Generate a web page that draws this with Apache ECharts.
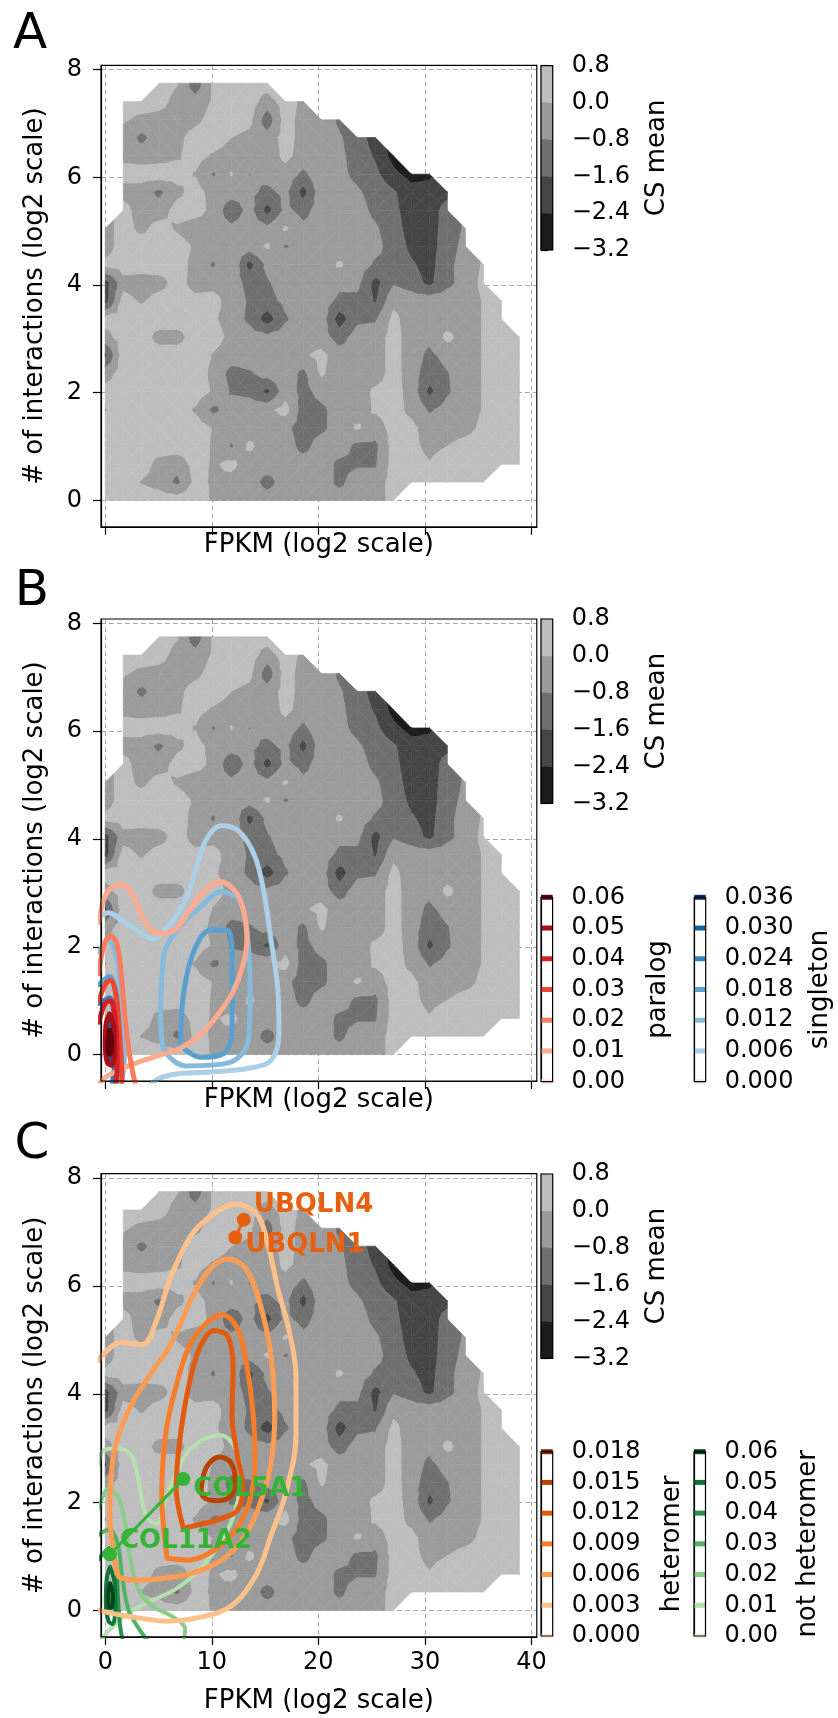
<!DOCTYPE html>
<html><head><meta charset="utf-8">
<script src="https://cdn.jsdelivr.net/npm/echarts@6/dist/echarts.min.js"></script>
<style>html,body{margin:0;padding:0;background:#fff}#c{width:838px;height:1718px}</style>
</head><body><div id="c"></div>
<script>
const _ = null;
// ---------- CS mean field (grid nodes, rows top -> bottom) ----------
const xNodes = [0,1.69,3.38,5.07,6.76,8.45,10.14,11.83,13.52,15.21,16.9,18.59,20.28,21.97,23.66,25.35,27.04,28.73,30.42,32.11,33.8,35.49,37.18,38.87];
const yNodes = [7.75,7.41,7.07,6.74,6.40,6.06,5.73,5.39,5.05,4.72,4.38,4.04,3.71,3.37,3.03,2.70,2.36,2.02,1.68,1.35,1.01,0.67,0.34,0];
const csMean = [
 [_,_,_,0.4,0.05,-1.3,0.1,0.4,0.4,0.4,_,_,_,_,_,_,_,_,_,_,_,_,_,_],
 [_,0.4,0.4,0.3,-0.3,-0.5,0.1,0.4,0.4,-0.4,0.4,-0.2,_,_,_,_,_,_,_,_,_,_,_,_],
 [_,0.1,-0.2,-0.3,-0.4,-0.2,0.3,0.4,0.2,-1.3,0.3,-0.3,0.0,-1.0,_,_,_,_,_,_,_,_,_,_],
 [_,-0.3,-1.0,-0.4,-0.2,0.3,0.4,0.0,-0.2,-0.5,0.3,-0.3,-0.3,-0.7,-1.3,-1.9,_,_,_,_,_,_,_,_],
 [_,-0.2,-0.4,-0.3,-0.1,0.3,-0.1,-0.3,-0.4,-0.5,0.2,-0.3,0.0,-0.6,-1.2,-1.7,-2.7,_,_,_,_,_,_,_],
 [_,0.3,0.4,0.4,0.3,-0.05,-0.9,0.05,-0.82,-0.5,-0.3,-1.0,-0.2,-0.6,-1.0,-1.4,-2.2,-2.7,-2.5,_,_,_,_,_],
 [_,-0.3,-0.4,-1.0,-0.2,0.3,-0.3,-0.4,-0.6,-1.0,-0.6,-1.9,-0.3,-0.5,-0.7,-1.1,-1.5,-2.1,-2.2,-1.9,_,_,_,_],
 [_,0.3,-0.4,-0.4,0.3,0.3,-0.2,-1.4,-0.5,-1.9,-0.6,-1.1,-0.4,-0.4,-0.5,-1.0,-1.4,-2.0,-2.1,-1.2,_,_,_,_],
 [-0.3,0.3,-0.2,0.3,-0.1,-0.4,-0.4,-0.6,-0.4,-0.6,0.1,-0.6,-0.4,-0.4,-0.4,-0.7,-1.2,-2.0,-2.0,-1.2,-0.7,_,_,_],
 [-0.4,0.4,0.4,0.4,0.3,-0.1,-0.4,-0.4,-0.4,0.1,-0.9,-0.4,-0.4,-0.4,-0.5,-0.6,-1.1,-1.8,-2.0,-1.1,-0.6,_,_,_],
 [0.2,0.4,0.4,0.4,0.4,-0.3,-0.9,0.0,-1.9,-0.6,0.0,-0.4,-0.5,0.1,-0.4,-0.9,-1.0,-1.5,-1.9,-1.0,-0.5,0.1,_,_],
 [-2.0,-0.3,-0.4,-0.3,0.3,-0.3,-0.3,-0.5,-1.0,-0.9,-0.4,-0.4,0.0,-0.6,-0.6,-1.9,-0.9,-1.2,-1.8,-1.0,-0.5,0.2,_,_],
 [-2.0,0.3,-0.1,0.3,0.4,0.2,0.3,-0.4,-0.9,-1.1,-0.6,-0.4,-0.4,-1.0,-1.0,-1.7,-0.2,-0.4,-0.4,-0.4,-0.4,0.05,0.4,_],
 [0.3,0.4,0.4,0.4,0.4,0.4,0.1,-0.3,-1.0,-2.0,-0.9,-0.4,-0.4,-2.0,-1.0,-0.9,0.2,-0.4,-0.4,-0.4,-0.4,0.05,0.4,_],
 [-0.3,0.4,0.4,-0.3,-0.3,0.4,0.3,-0.2,-0.4,-0.6,-0.4,-0.4,-0.4,-1.2,-0.4,-0.4,0.3,-0.4,-0.6,0.2,-0.4,0.05,0.4,0.4],
 [-1.8,0.4,0.4,0.4,0.4,0.4,-0.05,-0.4,-0.4,-0.4,-0.3,-0.1,0.2,-0.4,-0.4,-0.4,0.3,-0.4,-1.0,-0.5,-0.4,0.05,0.4,0.4],
 [-0.4,0.4,0.4,0.4,0.4,0.4,-0.2,-1.1,-0.9,-0.5,-0.4,-1.0,0.1,-0.4,-0.4,-0.4,0.3,-0.4,-1.3,-0.85,-0.4,0.05,0.4,0.4],
 [0.3,0.4,0.4,0.4,0.4,0.4,-0.1,-0.9,-1.0,-1.8,-0.3,-1.1,-0.5,-0.4,-0.4,0.15,0.3,-0.3,-1.8,-0.9,-0.4,0.05,0.4,0.4],
 [-0.05,0.4,0.4,0.4,0.4,-0.1,-1.0,-0.4,-0.4,-0.2,0.3,-1.2,-1.0,-0.4,-0.4,0.1,0.3,-0.2,-0.9,-0.5,-0.4,0.05,0.4,0.4],
 [0.4,0.4,0.4,0.4,0.4,0.4,-0.05,-0.4,-0.4,-0.4,-0.6,-1.2,-1.0,-0.4,0.1,-0.4,0.3,0.2,-0.4,-0.4,-0.3,0.2,0.4,0.4],
 [0.4,0.4,0.4,0.4,0.4,0.4,-0.1,-0.9,0.15,-0.4,-0.4,-1.1,-0.4,-0.4,-1.0,-1.0,0.3,0.2,-0.2,0.0,0.3,0.4,0.4,0.4],
 [0.4,0.4,0.4,-0.3,-0.5,0.3,-0.1,0.2,-0.4,-0.4,-0.4,-0.4,-0.4,-1.0,-0.9,-0.9,0.3,0.3,0.05,0.4,0.4,0.4,0.4,0.4],
 [0.4,0.4,-0.05,-0.3,-1.0,0.2,-0.1,-0.3,-0.4,-1.1,-0.4,-0.4,-0.4,-1.0,-0.4,-0.4,0.3,0.4,0.4,0.4,0.4,0.4,_,_],
 [0.4,0.4,0.4,0.4,0.4,0.4,-0.1,-0.4,-0.4,-0.4,-0.4,-0.4,-0.4,-0.4,-0.4,-0.4,0.3,_,_,_,_,_,_,_]
];
const csLevels = [-3.2,-2.4,-1.6,-0.8,0.0,0.8];
const csColors = ['#1c1c1c','#464646','#707070','#9b9b9b','#bdbdbd'];

// ---------- contour colorbar levels ----------
const paralogLevels = [0,0.01,0.02,0.03,0.04,0.05,0.06];
const paralogColors = ['#fee5d9','#fcab8f','#fb7d5d','#ef4533','#d02225','#a81016','#67000d'];
const singletonLevels = [0,0.006,0.012,0.018,0.024,0.030,0.036];
const singletonColors = ['#e3eef8','#aacfe6','#84bbdb','#5aa0cf','#3181bd','#1461a8','#08306b'];
const heteromerLevels = [0,0.003,0.006,0.009,0.012,0.015,0.018];
const heteromerColors = ['#feeddc','#fdc28c','#fd9d53','#f77d2a','#e25a0d','#b94203','#7f2704'];
const nonHetLevels = [0,0.01,0.02,0.03,0.04,0.05,0.06];
const nonHetColors = ['#e5f5e0','#b5e0ae','#88cc86','#52b263','#2b924a','#0e7537','#00441b'];

// ---------- KDE contour paths (x = FPKM, y = interactions) ----------
const singleton006 = [[-0.6,2.55],[0.3,2.63],[1.5,2.5],[3.0,2.3],[4.5,2.15],[6.0,2.4],[7.6,2.9],[8.6,3.5],[9.5,4.0],[10.9,4.25],[12.5,4.15],[14.0,3.7],[14.9,3.0],[15.5,2.2],[16.2,1.2],[16.3,0.4],[15.6,-0.1],[13.6,-0.25],[10.2,-0.32],[7.0,-0.35],[5.0,-0.45],[3.5,-0.7]];
const singleton012a = [[5.2,0.62],[5.5,1.84],[6.9,2.35],[8.9,2.73],[10.9,3.02],[12.6,2.86],[13.3,2.28],[13.6,1.2],[13.4,0.24],[11.6,-0.15],[7.6,-0.21],[5.5,0.11],[5.2,0.62]];
const singleton012b = [[-0.6,1.9],[0.3,2.12],[1.1,1.8],[1.5,1.0],[1.8,0.2],[1.7,-0.3],[1.3,-0.7]];
const singleton018a = [[7.05,0.17],[7.4,1.2],[8.4,1.96],[9.9,2.31],[11.4,2.31],[11.9,1.96],[11.9,0.56],[11.25,0.04],[8.9,-0.05],[7.05,0.17]];
const singleton018b = [[-0.6,1.3],[0.4,1.45],[1.1,1.0],[1.25,0.2],[1.0,-0.7]];
const singleton024 = [[-0.6,0.95],[0.4,1.05],[0.9,0.5],[0.85,-0.2],[0.5,-0.7]];
const singleton030 = [[0.35,0.7],[0.65,0.5],[0.7,0.1],[0.45,-0.15],[0.15,0.0],[0.1,0.4],[0.35,0.7]];

const paralog01 = [[-0.6,2.45],[-0.17,2.86],[0.5,3.08],[1.68,3.15],[2.69,2.92],[3.53,2.54],[4.87,2.25],[6.55,2.31],[7.9,2.67],[9.4,3.05],[10.75,3.21],[12.1,3.05],[12.9,2.73],[13.3,2.15],[12.9,1.64],[11.9,1.13],[10.6,0.75],[8.9,0.36],[6.9,0.11],[4.5,-0.05],[2.2,-0.21],[0.17,-0.4],[-0.6,-0.55]];
const paralog02 = [[-0.6,1.5],[-0.1,2.05],[0.5,2.2],[1.1,2.05],[1.5,1.5],[1.8,0.8],[2.2,0.1],[2.6,-0.35],[3.0,-0.7]];
const paralog03 = [[-0.6,1.0],[0.0,1.3],[0.5,1.38],[1.0,1.1],[1.3,0.5],[1.5,-0.1],[1.6,-0.7]];
const paralog04 = [[-0.6,0.6],[0.0,0.95],[0.5,1.0],[0.9,0.7],[1.1,0.1],[1.1,-0.3],[0.8,-0.7]];
const paralog05 = [[0.4,0.75],[0.8,0.5],[0.85,0.1],[0.6,-0.2],[0.2,-0.15],[0.0,0.2],[0.1,0.6],[0.4,0.75]];
const paralog06 = [[0.4,0.45],[0.6,0.3],[0.55,0.05],[0.35,0.0],[0.25,0.2],[0.4,0.45]];

const heteromer003 = [[-0.6,4.62],[-0.4,4.7],[1.45,4.96],[3.46,4.92],[4.8,5.36],[6.15,6.17],[8.17,6.97],[10.2,7.34],[12.2,7.52],[14.2,7.34],[15.2,6.83],[16.2,5.95],[17.2,5.22],[17.9,4.34],[17.9,3.24],[16.9,2.14],[15.6,1.41],[14.2,0.67],[11.9,0.09],[8.8,-0.13],[5.8,-0.2],[2.8,-0.13],[0.77,-0.06],[-0.6,0.0]];
const heteromer006 = [[1.11,0.67],[0.44,1.77],[0.77,2.87],[2.12,3.68],[4.13,4.34],[6.15,4.92],[8.17,5.8],[9.85,6.32],[11.5,6.5],[13.2,6.32],[14.55,5.66],[15.56,4.7],[15.9,3.6],[15.56,2.73],[14.55,1.99],[13.2,1.41],[11.2,0.97],[8.5,0.71],[5.8,0.6],[3.1,0.56],[1.45,0.6],[1.11,0.67]];
const heteromer009 = [[5.8,0.97],[5.3,2.14],[5.65,3.24],[6.5,4.04],[7.8,4.85],[9.35,5.29],[11.0,5.47],[12.4,5.22],[13.2,4.63],[13.9,3.6],[14.05,2.73],[13.5,1.99],[12.2,1.48],[10.2,1.11],[7.8,0.93],[5.8,0.97]];
const heteromer012 = [[7.33,1.52],[6.65,2.29],[7.0,3.16],[7.8,4.12],[8.85,4.85],[10.2,5.18],[11.5,5.07],[12.0,4.48],[11.9,3.6],[12.4,2.87],[12.9,2.29],[12.4,1.85],[10.9,1.7],[8.85,1.59],[7.33,1.52]];
const heteromer015 = [[9.0,2.25],[9.5,2.65],[10.7,2.84],[11.8,2.73],[12.2,2.4],[11.7,2.1],[10.35,2.03],[9.2,2.1],[9.0,2.25]];

const nonHet01 = [[-0.6,2.7],[-0.2,2.95],[1.1,3.0],[2.45,2.87],[3.1,2.43],[3.8,1.77],[4.8,1.6],[5.8,2.14],[7.5,2.87],[9.2,3.16],[10.85,3.24],[12.2,3.0],[12.7,2.5],[12.2,1.85],[10.85,1.26],[8.8,0.75],[6.5,0.38],[4.1,0.16],[2.1,-0.06],[0.44,-0.35],[-0.2,-0.5],[-0.6,-0.6]];
const nonHet02 = [[-0.6,1.9],[0.3,2.25],[1.2,2.1],[1.9,1.6],[2.4,0.9],[3.2,0.35],[4.6,0.05],[6.2,-0.1],[7.5,-0.35],[7.2,-0.7]];
const nonHet03 = [[-0.6,1.4],[0.4,1.5],[1.2,1.2],[1.6,0.6],[2.2,0.0],[3.2,-0.35],[4.5,-0.7]];
const nonHet04 = [[-0.6,0.95],[0.4,1.15],[1.0,0.8],[1.2,0.2],[1.4,-0.3],[1.8,-0.7]];
const nonHet05 = [[0.45,0.8],[0.85,0.55],[0.95,0.1],[0.7,-0.25],[0.3,-0.2],[0.05,0.15],[0.15,0.6],[0.45,0.8]];
const nonHet06 = [[0.45,0.5],[0.7,0.3],[0.6,0.05],[0.35,0.05],[0.28,0.3],[0.45,0.5]];

// ---------- labelled genes ----------
const heteromerGenes = [{name:'UBQLN4', x:13.0, y:7.23}, {name:'UBQLN1', x:12.2, y:6.9}];
const nonHetGenes = [{name:'COL5A1', x:7.33, y:2.43}, {name:'COL11A2', x:0.44, y:1.04}];

// ---------- tick values ----------
const xTicks = [0,10,20,30,40];
const yTicks = [0,2,4,6,8];

// ================= rendering =================
const FONT = 'DejaVu Sans';
const mainGrids = [
  {left:101, top:65.4, width:435.8, height:461.4},
  {left:101, top:619, width:435.8, height:462},
  {left:101, top:1173.7, width:435.8, height:463.2}
];
const cbGrids = [
  {left:541, top:65.7, width:11.7, height:184.3},
  {left:541, top:619, width:11.7, height:184.3},
  {left:541, top:897.3, width:11.6, height:184.4},
  {left:694.3, top:897.3, width:11.4, height:184.4},
  {left:541, top:1174, width:11.7, height:184.3},
  {left:541, top:1451.7, width:11.7, height:184.3},
  {left:694, top:1451.7, width:11.5, height:184.3}
];

function clip(poly, lev, above){
  const out=[]; const n=poly.length;
  for(let k=0;k<n;k++){
    const a=poly[k], b=poly[(k+1)%n];
    const ain = above ? a[2]>=lev : a[2]<=lev;
    const bin = above ? b[2]>=lev : b[2]<=lev;
    if(ain) out.push(a);
    if(ain!==bin){ const t=(lev-a[2])/(b[2]-a[2]); out.push([a[0]+t*(b[0]-a[0]), a[1]+t*(b[1]-a[1]), lev]); }
  }
  return out;
}
function buildBands(){
  const bands = csColors.map(()=>[]);
  const R=yNodes.length, C=xNodes.length;
  const node=(r,c)=> csMean[r][c]==null ? null : [xNodes[c], yNodes[r], csMean[r][c]];
  const tris=[];
  for(let r=0;r<R-1;r++) for(let c=0;c<C-1;c++){
    const a=node(r,c), b=node(r,c+1), d=node(r+1,c), e=node(r+1,c+1);
    const corners=[a,b,e,d];
    const valid=corners.filter(Boolean);
    if(valid.length===4){
      const ctr=[(a[0]+b[0])/2,(a[1]+d[1])/2,(a[2]+b[2]+d[2]+e[2])/4];
      for(let k=0;k<4;k++) tris.push([corners[k],corners[(k+1)%4],ctr]);
    } else if(valid.length===3) tris.push(valid);
  }
  for(const t of tris){
    for(let k=0;k<csColors.length;k++){
      let p=t;
      if(k>0) p=clip(p,csLevels[k],true);
      if(p.length && k<csColors.length-1) p=clip(p,csLevels[k+1],false);
      if(p.length>=3) bands[k].push(p);
    }
  }
  return bands;
}
const bands = buildBands();

const grids = mainGrids.concat(cbGrids);
const xAxes=[], yAxes=[], series=[];
const tickStyle = {color:'#000', width:1.2};
mainGrids.forEach((g,i)=>{
  xAxes.push({type:'value', gridIndex:i, min:-0.4, max:40.5,
    axisLine:{show:true,onZero:false,lineStyle:tickStyle},
    axisTick:{show:true,customValues:xTicks,length:8,lineStyle:tickStyle},
    axisLabel:{show:i===2,customValues:xTicks,fontSize:24,color:'#000',margin:14,fontFamily:FONT},
    splitLine:{show:true,lineStyle:{color:'#a8a8a8',type:[5,3],width:1}}});
  yAxes.push({type:'value', gridIndex:i, min:-0.49, max:8.08,
    axisLine:{show:true,onZero:false,lineStyle:tickStyle},
    axisTick:{show:true,customValues:yTicks,length:8,lineStyle:tickStyle},
    axisLabel:{show:true,customValues:yTicks,fontSize:24,color:'#000',margin:19,fontFamily:FONT},
    splitLine:{show:true,lineStyle:{color:'#a8a8a8',type:[5,3],width:1}}});
  series.push({type:'custom', xAxisIndex:i, yAxisIndex:i, silent:true, z:1,
    data: csColors.map((_c,k)=>[k,0]),
    renderItem:(params,api)=>{
      const k=params.dataIndex;
      return {type:'group', children: bands[k].map(p=>({type:'polygon',
        shape:{points:p.map(q=>api.coord([q[0],q[1]]))},
        style:{fill:csColors[k],stroke:csColors[k],lineWidth:0.6}}))};
    }});
});

function csFmt(v){ if(Math.abs(v)<1e-9) return '0.0'; return v.toFixed(1).replace('-','\u2212'); }
const cbSpecs = [
  {fill:true},{fill:true},
  {levels:paralogLevels, colors:paralogColors, digits:2},
  {levels:singletonLevels, colors:singletonColors, digits:3},
  {fill:true},
  {levels:heteromerLevels, colors:heteromerColors, digits:3},
  {levels:nonHetLevels, colors:nonHetColors, digits:2}
];
cbSpecs.forEach((s,j)=>{
  const gi = 3+j;
  xAxes.push({type:'value', gridIndex:gi, min:0, max:1, show:false});
  const lv = s.fill ? csLevels : s.levels;
  const mn = lv[0], mx = lv[lv.length-1], step = lv[1]-lv[0];
  yAxes.push({type:'value', gridIndex:gi, position:'right', min:mn, max:mx, interval:step,
    axisLine:{show:true,lineStyle:tickStyle},
    axisTick:{show:true,length:7,lineStyle:tickStyle},
    axisLabel:{show:true,fontSize:24,color:'#000',margin:19,fontFamily:FONT,
      formatter: s.fill ? csFmt : (v)=>v.toFixed(s.digits)},
    splitLine:{show:false}});
  if(s.fill){
    series.push({type:'custom', xAxisIndex:gi, yAxisIndex:gi, silent:true,
      data: csColors.map((_c,k)=>[0,csLevels[k]]),
      renderItem:(params,api)=>{
        const k=params.dataIndex;
        const p1=api.coord([0,csLevels[k+1]]), p2=api.coord([1,csLevels[k]]);
        return {type:'rect', shape:{x:p1[0],y:p1[1],width:p2[0]-p1[0],height:p2[1]-p1[1]},
          style:{fill:csColors[k],stroke:csColors[k],lineWidth:0.5}};
      }});
  } else {
    series.push({type:'custom', xAxisIndex:gi, yAxisIndex:gi, silent:true,
      data: s.levels.map(v=>[0,v]),
      renderItem:(params,api)=>{
        const v=s.levels[params.dataIndex];
        const p1=api.coord([0,v]), p2=api.coord([1,v]);
        return {type:'line', shape:{x1:p1[0],y1:p1[1],x2:p2[0],y2:p2[1]},
          style:{stroke:s.colors[params.dataIndex],lineWidth:5}};
      }});
  }
});

function contour(grid, data, color, width){
  series.push({type:'line', xAxisIndex:grid, yAxisIndex:grid, data:data, smooth:0.35,
    showSymbol:false, symbol:'none', silent:true, z:3, clip:true,
    lineStyle:{color:color,width:width,cap:'round',join:'round'}});
}
// panel B
contour(1, singleton006, singletonColors[1], 5);
contour(1, singleton012a, singletonColors[2], 5);
contour(1, singleton012b, singletonColors[2], 5);
contour(1, singleton018a, singletonColors[3], 5);
contour(1, singleton018b, singletonColors[3], 5);
contour(1, singleton024, singletonColors[4], 5);
contour(1, singleton030, singletonColors[5], 5);
contour(1, paralog01, paralogColors[1], 5);
contour(1, paralog02, paralogColors[2], 5);
contour(1, paralog03, paralogColors[3], 5);
contour(1, paralog04, paralogColors[4], 5);
contour(1, paralog05, paralogColors[5], 5);
contour(1, paralog06, paralogColors[6], 5);
// panel C
contour(2, nonHet01, nonHetColors[1], 4);
contour(2, nonHet02, nonHetColors[2], 4);
contour(2, nonHet03, nonHetColors[3], 4);
contour(2, nonHet04, nonHetColors[4], 4);
contour(2, nonHet05, nonHetColors[5], 4);
contour(2, nonHet06, nonHetColors[6], 4);
contour(2, heteromer003, heteromerColors[1], 5);
contour(2, heteromer006, heteromerColors[2], 5);
contour(2, heteromer009, heteromerColors[3], 5);
contour(2, heteromer012, heteromerColors[4], 5);
contour(2, heteromer015, heteromerColors[5], 5);

const ORANGE='#e6600f', GREEN='#36b336';
function genes(list, color, offsets){
  series.push({type:'line', xAxisIndex:2, yAxisIndex:2, z:10, silent:true,
    data: list.map((g,i)=>({name:g.name, value:[g.x,g.y], label:{offset:offsets[i]}})),
    symbol:'circle', symbolSize:14, showSymbol:true,
    lineStyle:{color:color,width:3}, itemStyle:{color:color},
    label:{show:true, position:'right', distance:3, formatter:'{b}', fontSize:26, fontWeight:'bold', color:color, fontFamily:FONT}});
}
genes(heteromerGenes, ORANGE, [[0,-14],[0,8]]);
genes(nonHetGenes, GREEN, [[0,10],[0,-13]]);

// frames and texts
const graphic = [];
grids.forEach(g=>graphic.push({type:'rect', silent:true, z:100,
  shape:{x:g.left,y:g.top,width:g.width,height:g.height},
  style:{fill:null,stroke:'#000',lineWidth:1.2}}));
function txt(t,x,y,size,rot){
  graphic.push({type:'text', silent:true, z:100, x:x, y:y, rotation:rot||0,
    style:{text:t, x:0, y:0, fill:'#000', font:size+'px "'+FONT+'"', fontSize:size, fontFamily:FONT,
      align:'center', verticalAlign:'middle', textAlign:'center', textVerticalAlign:'middle'}});
}
const R90 = Math.PI/2;
txt('A', 30, 35.3, 50); txt('B', 32, 592, 50); txt('C', 32, 1145, 50);
mainGrids.forEach((g,i)=>{
  txt('# of interactions (log2 scale)', 35.7, g.top+g.height/2, 26, R90);
});
txt('FPKM (log2 scale)', 318.9, 545.6, 26);
txt('FPKM (log2 scale)', 318.9, 1099.8, 26);
txt('FPKM (log2 scale)', 318.9, 1701.2, 26);
[0,1,4].forEach(j=>{ const g=cbGrids[j]; txt('CS mean', 657.5, g.top+g.height/2, 26, R90); });
txt('paralog', 658.7, cbGrids[2].top+cbGrids[2].height/2, 26, R90);
txt('singleton', 820.7, cbGrids[3].top+cbGrids[3].height/2, 26, R90);
txt('heteromer', 672.6, cbGrids[5].top+cbGrids[5].height/2, 26, R90);
txt('not heteromer', 807.9, cbGrids[6].top+cbGrids[6].height/2, 26, R90);

const chart = echarts.init(document.getElementById('c'), null, {renderer:'canvas', width:838, height:1718});
chart.setOption({
  animation:false,
  backgroundColor:'#fff',
  textStyle:{fontFamily:FONT},
  grid: grids,
  xAxis: xAxes, yAxis: yAxes,
  series: series,
  graphic: graphic
});
</script></body></html>
